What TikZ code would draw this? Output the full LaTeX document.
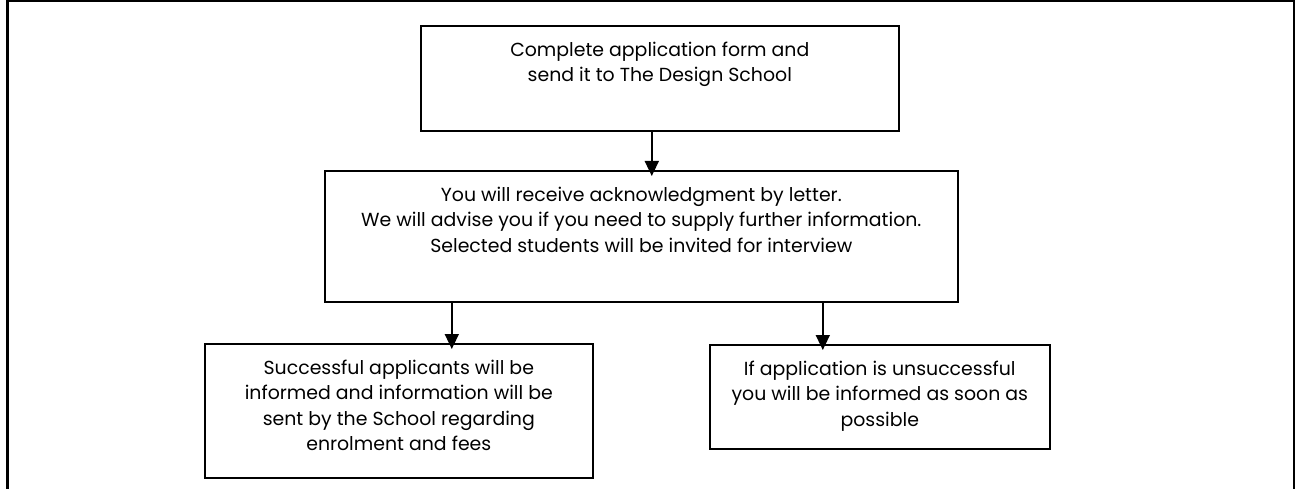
\documentclass[tikz,border=0pt]{standalone}
\usepackage{fontspec}
\setmainfont{Poppins}
\usetikzlibrary{arrows.meta}

% text of a box, set from its top edge
\newcommand{\boxtext}[3]{\parbox[c][#2][t]{#1}{\centering\fontsize{18.9}{25.5}\selectfont\vspace*{16pt}#3}}

\tikzset{
  stage/.style={draw, line width=1.6pt, inner sep=0pt, anchor=north west},
  arr/.style={line width=1.6pt, -{Triangle[length=15pt,width=14pt]}, shorten >=-6pt}
}

\begin{document}
\begin{tikzpicture}[x=1pt, y=-1pt]

\useasboundingbox (0,0) rectangle (1295,489);

% page frame
\draw [line width=3pt] (7,520) -- (7,1) -- (1294,1) -- (1294,520);

\node [stage] (apply) at (420,25) {\boxtext{478pt}{105pt}{Complete application form and\\ send it to The Design School}};
\node [stage] (reply) at (324,170) {\boxtext{633pt}{131pt}{You will receive acknowledgment by letter.\\ We will advise you if you need to supply further information.\\ Selected students will be invited for interview}};
\node [stage] (offer) at (204,343) {\boxtext{388pt}{134pt}{Successful applicants will be\\ informed and information will be\\ sent by the School regarding\\ enrolment and fees}};
\node [stage] (reject) at (709,344) {\boxtext{340pt}{104pt}{If application is unsuccessful\\ you will be informed as soon as\\ possible}};

\draw [arr] ([xshift=-8pt]apply.south) -- ([xshift=-8pt]apply.south |- reply.north);
\draw [arr] ([xshift=53pt]offer.north |- reply.south) -- ([xshift=53pt]offer.north);
\draw [arr] ([xshift=-57pt]reject.north |- reply.south) -- ([xshift=-57pt]reject.north);

\end{tikzpicture}
\end{document}
